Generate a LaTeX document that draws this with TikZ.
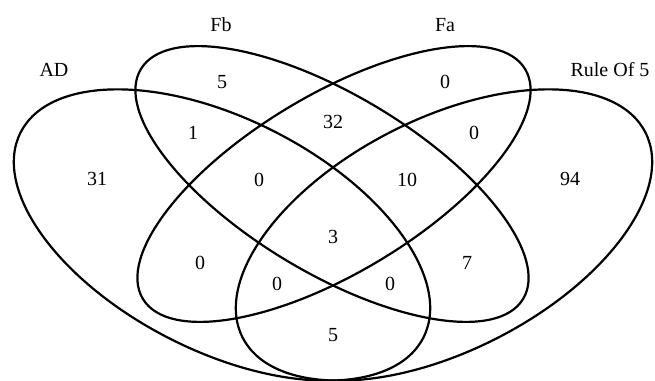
\documentclass[tikz,border=0pt]{standalone}
\usepackage{fontspec}
\setmainfont{Liberation Serif}
\usetikzlibrary{shapes.geometric}

\begin{document}
\begin{tikzpicture}[x=1pt, y=1pt,
    setring/.style={draw, ellipse, line width=2.2pt, inner sep=0pt, outer sep=0pt},
    setname/.style={font=\fontsize{20}{24}\selectfont},
    count/.style={font=\fontsize{20}{24}\selectfont}
]
\useasboundingbox (0,0) rectangle (655,380);
\clip (0,0) rectangle (655,380);
% the four sets
\node[setring, minimum width=452pt, minimum height=232pt, rotate=-27] (ad) at (222,145) {};
\node[setring, minimum width=452pt, minimum height=232pt, rotate=27] (rule) at (444,145) {};
\node[setring, minimum width=446pt, minimum height=178pt, rotate=-31] (fb) at (332,196) {};
\node[setring, minimum width=446pt, minimum height=178pt, rotate=31] (fa) at (334,196) {};
% set names
\node[setname] (lad) at (54,310) {AD};
\node[setname] (lfb) at (221,355) {Fb};
\node[setname] (lfa) at (445,355) {Fa};
\node[setname] (lrule) at (610,310) {Rule Of 5};
% region counts
\node[count] (fbonly) at (222,298) {5};
\node[count] (faonly) at (445,298) {0};
\node[count] (adfb) at (193,247) {1};
\node[count] (fbfa) at (333,258) {32};
\node[count] (farule) at (474,247) {0};
\node[count] (adonly) at (97,201) {31};
\node[count] (adfbfa) at (259,200) {0};
\node[count] (fbfarule) at (407,200) {10};
\node[count] (ruleonly) at (570,201) {94};
\node[count] (all) at (333,143) {3};
\node[count] (adfa) at (200,117) {0};
\node[count] (fbrule) at (467,117) {7};
\node[count] (adfarule) at (277,96) {0};
\node[count] (adfbrule) at (390,96) {0};
\node[count] (adrule) at (333,45) {5};
\end{tikzpicture}
\end{document}
